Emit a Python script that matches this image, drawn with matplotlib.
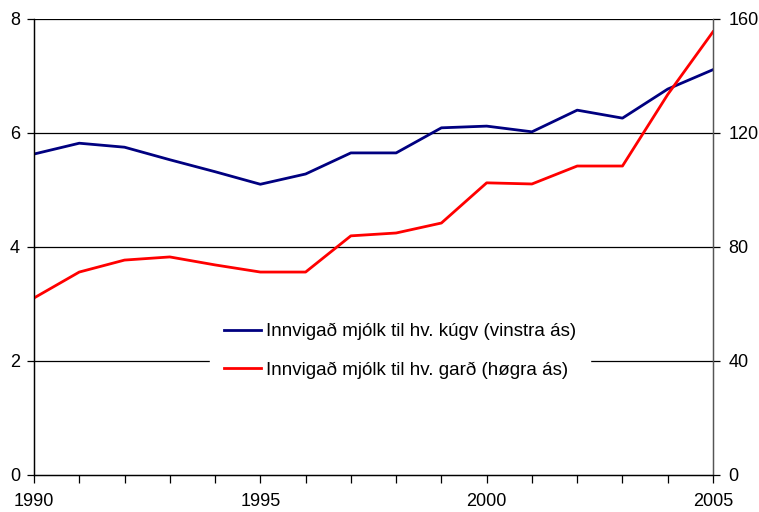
import matplotlib
matplotlib.use('Agg')
import matplotlib.pyplot as plt
from matplotlib.ticker import MultipleLocator

plt.rcParams.update({'font.size': 13, 'font.family': ['Liberation Sans', 'DejaVu Sans']})

# Data
years = list(range(1990, 2006))
per_cow = [5.63, 5.82, 5.75, 5.53, 5.32, 5.10, 5.28, 5.65, 5.65, 6.09,
           6.12, 6.02, 6.40, 6.26, 6.77, 7.11]
per_farm = [62.1, 71.2, 75.4, 76.5, 73.7, 71.2, 71.2, 83.9, 84.9, 88.4,
            102.5, 102.1, 108.4, 108.4, 133.5, 155.5]
label_cow = 'Innvigað mjólk til hv. kúgv (vinstra ás)'
label_farm = 'Innvigað mjólk til hv. garð (høgra ás)'

fig = plt.figure(figsize=(7.59, 5.12), dpi=100)
ax = fig.add_axes([0.0448, 0.0723, 0.8946, 0.8907])
ax2 = ax.twinx()

l1, = ax.plot(years, per_cow, color='#000080', linewidth=2, label=label_cow)
l2, = ax2.plot(years, per_farm, color='#ff0000', linewidth=2, label=label_farm)

ax.set_xlim(1990, 2005)
ax.set_ylim(0, 8)
ax2.set_ylim(0, 160)
ax.yaxis.set_major_locator(MultipleLocator(2))
ax2.yaxis.set_major_locator(MultipleLocator(40))
ax.set_xticks([1990, 1995, 2000, 2005])
ax.set_xticks(years, minor=True)

# horizontal gridlines
for y in [2, 4, 6, 8]:
    ax.axhline(y, color='black', linewidth=0.9, zorder=0)

for a in (ax, ax2):
    a.spines['top'].set_visible(False)
    for s in a.spines.values():
        s.set_linewidth(0.9)
        s.set_color('black')
ax.spines['right'].set_color('#555555')
ax2.spines['right'].set_color('#555555')

ax.tick_params(axis='y', direction='out', length=5, width=0.9, pad=5)
ax2.tick_params(axis='y', direction='out', length=5, width=0.9, pad=6, colors='black')
ax.tick_params(axis='x', which='both', direction='out', length=6, width=0.9, pad=7)

leg = ax.legend(handles=[l1, l2], loc='center', bbox_to_anchor=(0.539, 0.272),
                frameon=True, fancybox=False, edgecolor='white', facecolor='white',
                framealpha=1, handlelength=1.97, handletextpad=0.27, labelspacing=1.15,
                borderpad=0.75, borderaxespad=0, fontsize=13.5)
leg.set_zorder(5)

fig.savefig('out.png', dpi=100)
